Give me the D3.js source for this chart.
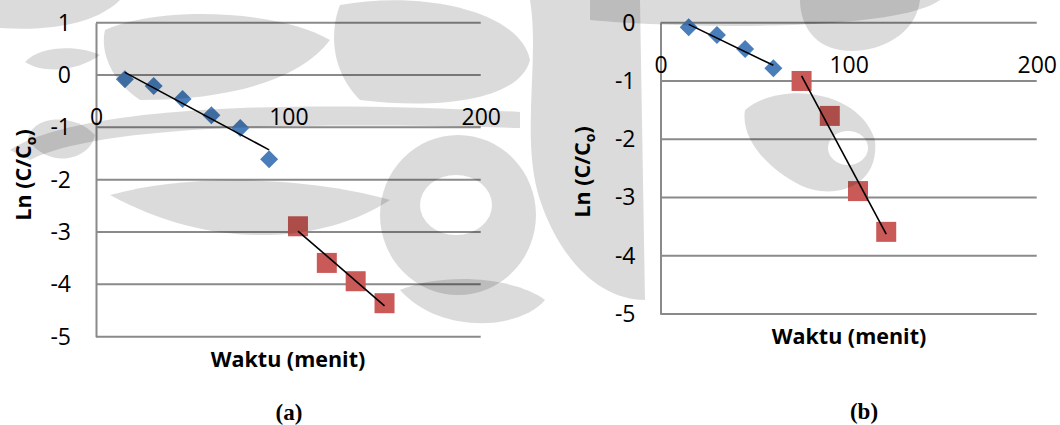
<!DOCTYPE html>
<html>
<head>
<meta charset="utf-8">
<script src="https://cdn.jsdelivr.net/npm/d3@7"></script>
<style>
  body { margin: 0; background: #fff; }
  svg { display: block; }
  .tick text { font-family: "Open Sans", sans-serif; font-size: 23px; fill: #000; }
  .title { font-family: "Open Sans", sans-serif; font-weight: bold; font-size: 21.5px; fill: #000; }
  .caption { font-family: "Liberation Serif", serif; font-weight: bold; font-size: 23px; fill: #000; }
</style>
</head>
<body>
<div id="app"></div>
<script>
const W = 1060, H = 425;

// panel (a)
const waktuA1 = [15, 30, 45, 60, 75, 90];
const lnA1 = [-0.08, -0.21, -0.46, -0.77, -1.01, -1.61];
const waktuA2 = [105, 120, 135, 150];
const lnA2 = [-2.89, -3.59, -3.94, -4.36];

// panel (b)
const waktuB1 = [15, 30, 45, 60];
const lnB1 = [-0.08, -0.21, -0.45, -0.78];
const waktuB2 = [75, 90, 105, 120];
const lnB2 = [-1.00, -1.60, -2.89, -3.59];

const xTicks = [0, 100, 200];
const yTicksA = [1, 0, -1, -2, -3, -4, -5];
const yTicksB = [0, -1, -2, -3, -4, -5];

const BLUE = "#4a7ebb";
const RED = "#c95a57";
const GRID = "#8a8a8a";

const zip = (xs, ys) => xs.map((x, i) => ({ x, y: ys[i] }));

// least squares line between first and last x
const fit = pts => {
  const n = pts.length;
  const mx = d3.mean(pts, d => d.x), my = d3.mean(pts, d => d.y);
  const sxy = d3.sum(pts, d => (d.x - mx) * (d.y - my));
  const sxx = d3.sum(pts, d => (d.x - mx) ** 2);
  const b = sxy / sxx, a = my - b * mx;
  const x0 = pts[0].x, x1 = pts[n - 1].x;
  return [{ x: x0, y: a + b * x0 }, { x: x1, y: a + b * x1 }];
};

const svg = d3.select('#app')
  .append('svg')
  .attr('width', W)
  .attr('height', H);

const drawPanel = cfg => {
  const x = d3.scaleLinear().domain([0, 200]).range(cfg.xRange);
  const y = d3.scaleLinear().domain(cfg.yDomain).range(cfg.yRange);
  const g = svg.append('g');

  // gridlines
  g.selectAll('.grid')
    .data(cfg.yTicks)
    .join('line')
    .attr('x1', x(0)).attr('x2', x(200))
    .attr('y1', d => y(d)).attr('y2', d => y(d))
    .attr('stroke', GRID).attr('stroke-width', 2);

  // y axis (plain hyphen minus like the original)
  const yAxis = g.append('g')
    .attr('transform', `translate(${x(0)},0)`)
    .call(d3.axisLeft(y).tickValues(cfg.yTicks).tickSize(0).tickPadding(25).tickFormat(d => String(d)));
  yAxis.select('.domain').attr('stroke', GRID).attr('stroke-width', 2);

  // x axis labels sit below the zero line
  const xAxis = g.append('g')
    .attr('transform', `translate(0,${y(0)})`)
    .call(d3.axisBottom(x).tickValues(xTicks).tickSize(0).tickPadding(34).tickFormat(d => String(d)));
  xAxis.select('.domain').remove();

  const line = d3.line().x(d => x(d.x)).y(d => y(d.y));
  const s1 = zip(cfg.x1, cfg.y1), s2 = zip(cfg.x2, cfg.y2);

  g.selectAll('.dia')
    .data(s1)
    .join('path')
    .attr('d', d3.symbol(d3.symbolSquare, 162))
    .attr('transform', d => `translate(${x(d.x)},${y(d.y)}) rotate(45)`)
    .attr('fill', BLUE);

  g.selectAll('.sq')
    .data(s2)
    .join('path')
    .attr('d', d3.symbol(d3.symbolSquare, 400))
    .attr('transform', d => `translate(${x(d.x)},${y(d.y)})`)
    .attr('fill', RED);

  [s1, s2].forEach(s => g.append('path')
    .attr('d', line(fit(s)))
    .attr('stroke', '#000').attr('stroke-width', 1.6).attr('fill', 'none'));

  g.append('text')
    .attr('class', 'title')
    .attr('x', cfg.xTitle[0]).attr('y', cfg.xTitle[1])
    .attr('text-anchor', 'middle').attr('dominant-baseline', 'central')
    .text('Waktu (menit)');

  const yt = g.append('text')
    .attr('class', 'title')
    .attr('text-anchor', 'middle')
    .attr('transform', `translate(${cfg.yTitle[0]},${cfg.yTitle[1]}) rotate(-90)`)
    .attr('dy', '0.35em');
  yt.append('tspan').text('Ln (C/C');
  yt.append('tspan').text('o').attr('font-size', '14px').attr('dy', '5');
  yt.append('tspan').text(')').attr('dy', '-5');

  g.append('text')
    .attr('class', 'caption')
    .attr('x', cfg.caption[0]).attr('y', cfg.caption[1])
    .attr('text-anchor', 'middle').attr('dominant-baseline', 'central')
    .text(cfg.label);
};

drawPanel({
  xRange: [96, 480.7], yDomain: [-5, 1], yRange: [336.7, 22.7], yTicks: yTicksA,
  x1: waktuA1, y1: lnA1, x2: waktuA2, y2: lnA2,
  xTitle: [288, 358], yTitle: [23, 175], caption: [289, 412], label: '(a)'
});

drawPanel({
  xRange: [660.5, 1036.7], yDomain: [-5, 0], yRange: [314, 22.7], yTicks: yTicksB,
  x1: waktuB1, y1: lnB1, x2: waktuB2, y2: lnB2,
  xTitle: [849, 335], yTitle: [582, 172], caption: [864, 411], label: '(b)'
});

// faint background ornament of the scanned page (rough)
const wm = svg.append('g').attr('fill', '#000').attr('fill-opacity', 0.14).attr('pointer-events', 'none');
const blobs = [
  'M0,0 L120,0 C100,20 60,32 0,28 Z',
  'M25,62 C40,45 80,45 100,55 C80,70 45,75 25,62 Z',
  'M105,30 C160,5 280,10 330,40 C300,80 230,100 140,100 C110,80 100,50 105,30 Z',
  'M340,5 C420,-10 520,10 530,60 C520,100 440,110 360,100 C330,70 330,30 340,5 Z',
  'M10,150 C80,105 300,100 520,112 L520,128 C300,122 100,125 30,160 Z',
  'M28,140 C30,115 75,112 95,135 C90,160 50,170 28,140 Z',
  'M110,195 C200,170 320,180 390,200 C330,240 220,255 110,195 Z',
  'M380,215 A78,80 0 1 0 536,215 A78,80 0 1 0 380,215 Z M420,205 A36,30 0 1 1 492,205 A36,30 0 1 1 420,205 Z',
  'M530,0 L640,0 L645,300 C600,300 560,260 540,200 C520,140 540,60 530,0 Z',
  'M590,0 L940,0 C900,30 700,30 590,20 Z',
  'M800,0 L920,0 C915,40 870,55 840,50 C810,45 800,20 800,0 Z',
  'M745,110 C780,80 860,90 875,140 C880,190 830,200 800,185 C770,170 740,140 745,110 Z M828,148 A20,17 0 1 0 868,148 A20,17 0 1 0 828,148 Z',
  'M400,290 C450,270 520,280 545,300 C520,330 440,335 400,290 Z'
];
wm.selectAll('path').data(blobs).join('path').attr('d', d => d).attr('fill-rule', 'evenodd');
</script>
</body>
</html>
